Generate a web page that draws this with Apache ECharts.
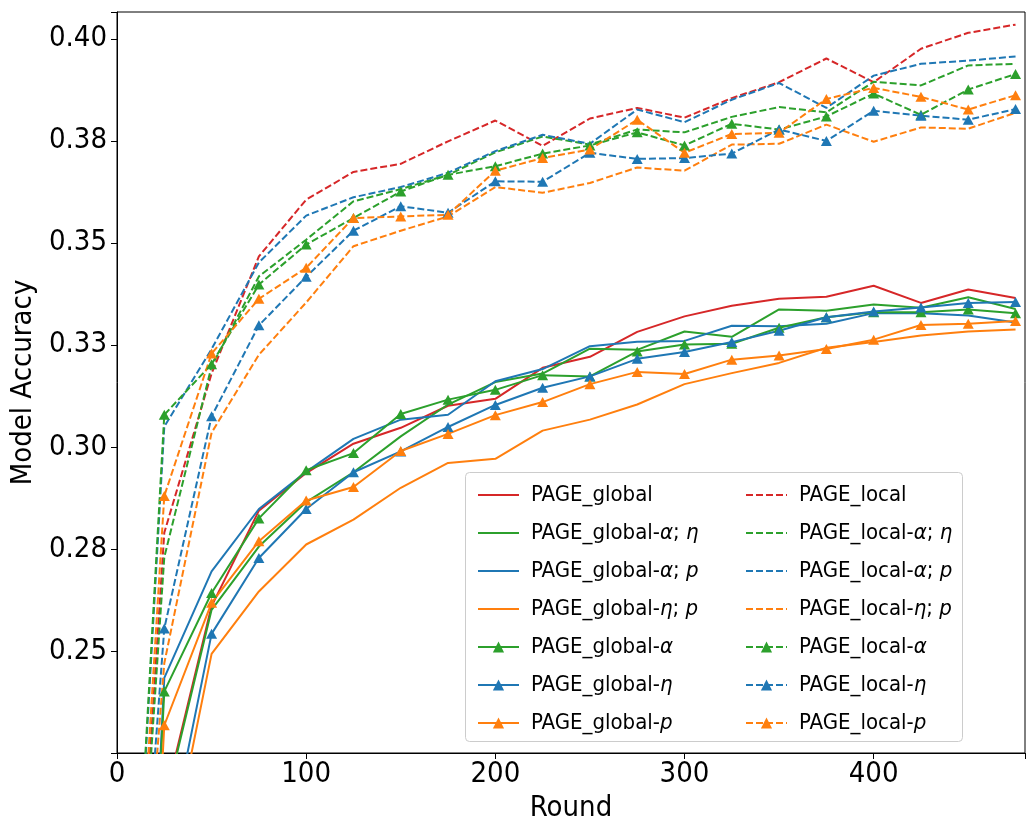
<!DOCTYPE html>
<html><head><meta charset="utf-8">
<script src="https://cdn.jsdelivr.net/npm/echarts@6/dist/echarts.min.js"></script>
<style>html,body{margin:0;padding:0;background:#fff}#c{width:1036px;height:832px}</style>
</head><body><div id="c"></div>
<script>
const rounds = [0,25,50,75,100,125,150,175,200,225,250,275,300,325,350,375,400,425,450,475];

const pageGlobal      = [0.01,0.213,0.261,0.2844,0.2936,0.3008,0.3047,0.3101,0.3118,0.3194,0.3221,0.3282,0.3320,0.3346,0.3363,0.3368,0.3395,0.3353,0.3386,0.3365];
const pageGlobalAE    = [0.01,0.212,0.2601,0.2756,0.2865,0.2938,0.3026,0.3104,0.3159,0.3180,0.3241,0.3238,0.3283,0.3270,0.3337,0.3334,0.3349,0.3341,0.3367,0.3338];
const pageGlobalAP    = [0.01,0.2434,0.2695,0.2848,0.2939,0.3020,0.3067,0.3079,0.3161,0.3191,0.3247,0.3258,0.3260,0.3297,0.3296,0.3302,0.3328,0.3328,0.3322,0.3305];
const pageGlobalEP    = [0.01,0.192,0.2493,0.2646,0.2761,0.2822,0.2900,0.2961,0.2971,0.3040,0.3067,0.3104,0.3154,0.3181,0.3206,0.3243,0.3257,0.3273,0.3283,0.3288];
const pageGlobalA     = [0.01,0.2401,0.2642,0.2825,0.2943,0.2985,0.3081,0.3116,0.3140,0.3176,0.3173,0.3234,0.3251,0.3253,0.3292,0.3318,0.3330,0.3330,0.3337,0.3328];
const pageGlobalE     = [0.01,0.197,0.2542,0.2728,0.2848,0.2938,0.2989,0.3049,0.3103,0.3145,0.3173,0.3216,0.3233,0.3257,0.3285,0.3318,0.3332,0.3342,0.3353,0.3355];
const pageGlobalP     = [0.01,0.2318,0.2618,0.2769,0.2869,0.2902,0.2990,0.3032,0.3078,0.3110,0.3154,0.3184,0.3179,0.3214,0.3224,0.3240,0.3263,0.3299,0.3302,0.3309];

const pageLocal       = [0.1,0.279,0.318,0.3467,0.3606,0.3674,0.3694,0.3749,0.3800,0.3738,0.3805,0.3831,0.3807,0.3855,0.3894,0.3952,0.3894,0.3976,0.4015,0.4035];
const pageLocalAE     = [0.1,0.273,0.3198,0.3418,0.3508,0.3602,0.3632,0.3667,0.3722,0.3761,0.3741,0.3778,0.3771,0.3809,0.3833,0.3820,0.3895,0.3886,0.3935,0.3939];
const pageLocalAP     = [0.1,0.3050,0.324,0.3452,0.3567,0.3612,0.3637,0.3672,0.3725,0.3765,0.3743,0.3827,0.3796,0.3851,0.3892,0.3831,0.3910,0.3939,0.3947,0.3957];
const pageLocalEP     = [0.1,0.247,0.3035,0.3226,0.3354,0.3492,0.3530,0.3565,0.3637,0.3623,0.3647,0.3685,0.3677,0.3741,0.3743,0.3790,0.3748,0.3783,0.3780,0.3819];
const pageLocalA      = [0.1,0.3079,0.3203,0.3398,0.3496,0.3561,0.3626,0.3667,0.3688,0.3719,0.3739,0.3771,0.3739,0.3792,0.3778,0.3810,0.3866,0.3814,0.3876,0.3914];
const pageLocalE      = [0.1,0.2555,0.3075,0.3298,0.3417,0.3530,0.3590,0.3574,0.3651,0.3650,0.3721,0.3706,0.3708,0.3719,0.3778,0.3750,0.3824,0.3812,0.3802,0.3828];
const pageLocalP      = [0.1,0.288,0.3229,0.3363,0.3439,0.3561,0.3565,0.3569,0.3677,0.3708,0.3729,0.3802,0.3721,0.3767,0.3770,0.3853,0.3880,0.3858,0.3827,0.3862];

const xTickLabels = [0,100,200,300,400];
const yTickLabels = ['0.25','0.28','0.30','0.33','0.35','0.38','0.40'];

const RED='#d62728', GREEN='#2ca02c', BLUE='#1f77b4', ORANGE='#ff7f0e';
const FONT = "'DejaVu Sans Condensed', 'DejaVu Sans', sans-serif";

const seriesDefs = [
  ['PAGE_global', pageGlobal, RED, false, false],
  ['PAGE_global-α; η', pageGlobalAE, GREEN, false, false],
  ['PAGE_global-α; p', pageGlobalAP, BLUE, false, false],
  ['PAGE_global-η; p', pageGlobalEP, ORANGE, false, false],
  ['PAGE_global-α', pageGlobalA, GREEN, false, true],
  ['PAGE_global-η', pageGlobalE, BLUE, false, true],
  ['PAGE_global-p', pageGlobalP, ORANGE, false, true],
  ['PAGE_local', pageLocal, RED, true, false],
  ['PAGE_local-α; η', pageLocalAE, GREEN, true, false],
  ['PAGE_local-α; p', pageLocalAP, BLUE, true, false],
  ['PAGE_local-η; p', pageLocalEP, ORANGE, true, false],
  ['PAGE_local-α', pageLocalA, GREEN, true, true],
  ['PAGE_local-η', pageLocalE, BLUE, true, true],
  ['PAGE_local-p', pageLocalP, ORANGE, true, true]
];

const series = seriesDefs.map(([name, vals, color, dashed, marker]) => ({
  name, type: 'line',
  data: rounds.map((r, i) => [r, vals[i]]),
  color,
  symbol: marker ? 'triangle' : 'none',
  symbolSize: [11, 10],
  showSymbol: marker,
  lineStyle: { color, width: 2, type: dashed ? [7, 3] : 'solid' },
  itemStyle: { color, borderWidth: 0 },
  clip: true,
  emphasis: { disabled: true },
  silent: true
}));

function legendFmt(name) {
  const idx = name.indexOf('-');
  if (idx < 0) return '{n|' + name + '}';
  const base = name.slice(0, idx + 1);
  const parts = name.slice(idx + 1).split('; ');
  return '{n|' + base + '}' + parts.map(p => '{i|' + p + '}').join('{n|; }');
}
const legendText = {
  color: '#000', fontFamily: FONT, fontSize: 22, lineHeight: 24, padding: [0, 0, 0, 7],
  rich: {
    n: { fontFamily: FONT, fontSize: 22, color: '#000', lineHeight: 24 },
    i: { fontFamily: FONT, fontSize: 22, color: '#000', fontStyle: 'italic', lineHeight: 24 }
  }
};
const legendBase = {
  orient: 'vertical', itemWidth: 41, itemHeight: 14, itemGap: 14, top: 478,
  formatter: legendFmt, textStyle: legendText, selectedMode: false
};
function legendItems(defs) {
  return defs.map(d => d[4] ? { name: d[0] } : { name: d[0], itemStyle: { opacity: 0 } });
}

const chart = echarts.init(document.getElementById('c'), null, { renderer: 'canvas' });
chart.setOption({
  animation: false,
  backgroundColor: '#fff',
  grid: { left: 117, right: 11, top: 12, bottom: 79, show: true, borderColor: '#000', borderWidth: 1, backgroundColor: 'transparent' },
  xAxis: {
    type: 'value', min: 0, max: 480, interval: 100,
    axisLine: { show: true, lineStyle: { color: '#000', width: 1 } },
    axisTick: { show: true, length: 6, lineStyle: { color: '#000', width: 1 } },
    splitLine: { show: false },
    axisLabel: {
      fontSize: 29, color: '#000', fontFamily: FONT, margin: 7,
      formatter: v => xTickLabels.includes(v) ? String(v) : ''
    },
    name: 'Round', nameLocation: 'middle', nameGap: 38,
    nameTextStyle: { fontSize: 29, color: '#000', fontFamily: FONT }
  },
  yAxis: {
    type: 'value', min: 0.225, max: 0.4066, interval: 0.025,
    axisLine: { show: true, lineStyle: { color: '#000', width: 1 } },
    axisTick: { show: true, length: 6, lineStyle: { color: '#000', width: 1 } },
    splitLine: { show: false },
    axisLabel: {
      fontSize: 29, color: '#000', fontFamily: FONT, margin: 10,
      formatter: v => {
        const k = v / 0.025;
        if (Math.abs(k - Math.round(k)) > 1e-6 || v < 0.24) return '';
        const s = (Math.round(v * 100 + 1e-9) / 100).toFixed(2);
        return yTickLabels.includes(s) ? s : '';
      }
    },
    name: 'Model Accuracy', nameLocation: 'middle', nameGap: 74,
    nameTextStyle: { fontSize: 29, color: '#000', fontFamily: FONT }
  },
  legend: [
    Object.assign({}, legendBase, { left: 472, data: legendItems(seriesDefs.slice(0, 7)) }),
    Object.assign({}, legendBase, { left: 740, data: legendItems(seriesDefs.slice(7)) })
  ],
  graphic: [{
    type: 'rect', left: 465, top: 472, z: 3,
    shape: { width: 497, height: 269, r: 4 },
    style: { fill: 'rgba(255,255,255,0.85)', stroke: '#cccccc', lineWidth: 1 }
  }],
  series
});
</script></body></html>
